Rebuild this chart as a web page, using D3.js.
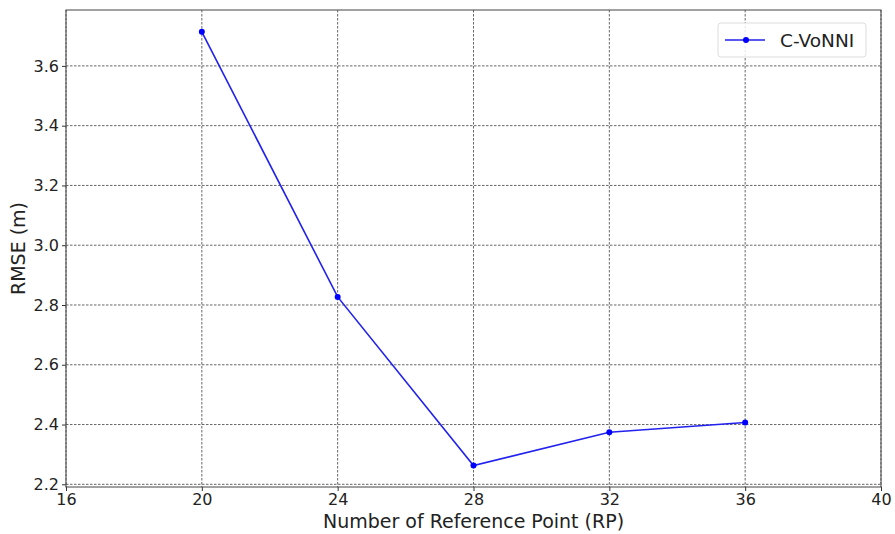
<!DOCTYPE html>
<html>
<head>
<meta charset="utf-8">
<script src="https://cdn.jsdelivr.net/npm/d3@7"></script>
<style>
  html, body { margin: 0; padding: 0; background: #fff; }
  svg { display: block; font-family: "DejaVu Sans", sans-serif; }
</style>
</head>
<body>
<svg id="chart" width="895" height="534"></svg>
<script>
// RMSE of C-VoNNI versus number of reference points
const rpCounts = [20, 24, 28, 32, 36];
const rmseValues = [3.714, 2.827, 2.263, 2.374, 2.407];
const seriesName = "C-VoNNI";
const xTicks = [16, 20, 24, 28, 32, 36, 40];
const yTicks = [2.2, 2.4, 2.6, 2.8, 3.0, 3.2, 3.4, 3.6];

const svg = d3.select("#chart");
const margin = { left: 66, right: 14, top: 10, bottom: 47 };
const W = 895, H = 534;
const pw = W - margin.left - margin.right;
const ph = H - margin.top - margin.bottom;

const x = d3.scaleLinear().domain([16, 40]).range([0, pw]);
const y = d3.scaleLinear().domain([2.191, 3.787]).range([ph, 0]);

const g = svg.append("g").attr("transform", `translate(${margin.left},${margin.top})`);

// grid
g.append("g").selectAll("line").data(xTicks).join("line")
  .attr("x1", d => x(d)).attr("x2", d => x(d))
  .attr("y1", 0).attr("y2", ph)
  .attr("stroke", "#555").attr("stroke-width", 0.9).attr("stroke-dasharray", "2.5,1.5");
g.append("g").selectAll("line").data(yTicks).join("line")
  .attr("x1", 0).attr("x2", pw)
  .attr("y1", d => y(d)).attr("y2", d => y(d))
  .attr("stroke", "#555").attr("stroke-width", 0.9).attr("stroke-dasharray", "2.5,1.5");

// axes
const xAxis = g.append("g").attr("transform", `translate(0,${ph})`)
  .call(d3.axisBottom(x).tickValues(xTicks).tickFormat(d3.format("d")).tickSize(4).tickPadding(3));
const yAxis = g.append("g")
  .call(d3.axisLeft(y).tickValues(yTicks).tickFormat(d3.format(".1f")).tickSize(4).tickPadding(3));
[xAxis, yAxis].forEach(a => {
  a.select(".domain").remove();
  a.selectAll("line").attr("stroke", "#333");
  a.selectAll("text").attr("font-size", 16).attr("fill", "#222")
    .attr("font-family", "DejaVu Sans, sans-serif");
});

// frame
g.append("rect").attr("x", 0).attr("y", 0).attr("width", pw).attr("height", ph)
  .attr("fill", "none").attr("stroke", "#444").attr("stroke-width", 1);

// series
const line = d3.line().x((d, i) => x(rpCounts[i])).y(d => y(d));
g.append("path").datum(rmseValues).attr("d", line)
  .attr("fill", "none").attr("stroke", "#2222ee").attr("stroke-width", 1.6);
g.append("g").selectAll("circle").data(rmseValues).join("circle")
  .attr("cx", (d, i) => x(rpCounts[i])).attr("cy", d => y(d)).attr("r", 3)
  .attr("fill", "#0000ff");

// axis labels
svg.append("text").attr("x", margin.left + pw / 2).attr("y", 528)
  .attr("text-anchor", "middle").attr("font-size", 19).attr("fill", "#222")
  .text("Number of Reference Point (RP)");
svg.append("text").attr("transform", `translate(25,${margin.top + ph / 2}) rotate(-90)`)
  .attr("text-anchor", "middle").attr("font-size", 19).attr("fill", "#222")
  .text("RMSE (m)");

// legend
const lg = svg.append("g").attr("transform", "translate(718,23)");
lg.append("rect").attr("width", 148).attr("height", 34).attr("rx", 3)
  .attr("fill", "#fff").attr("fill-opacity", 0.85).attr("stroke", "#ddd");
lg.append("line").attr("x1", 7).attr("x2", 47).attr("y1", 17).attr("y2", 17)
  .attr("stroke", "#2222ee").attr("stroke-width", 1.6);
lg.append("circle").attr("cx", 28).attr("cy", 17).attr("r", 3).attr("fill", "#0000ff");
lg.append("text").attr("x", 62).attr("y", 24).attr("font-size", 18.5).attr("fill", "#222")
  .text(seriesName);
</script>
</body>
</html>
